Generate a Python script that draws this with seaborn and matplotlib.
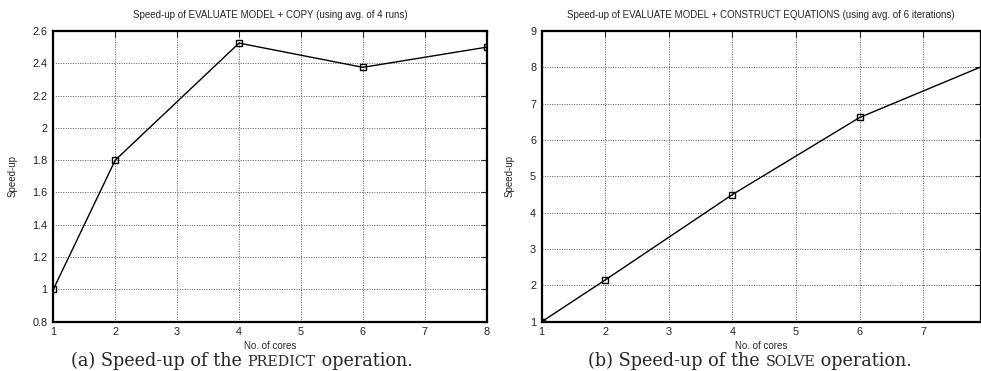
import matplotlib
matplotlib.use("Agg")
import matplotlib.pyplot as plt
import seaborn as sns
import pandas as pd

sns.set_style("white")
plt.rcParams['font.family'] = ['Liberation Sans', 'DejaVu Sans']

cores_a = [1, 2, 4, 6, 8]
speedup_a = [1.0, 1.8, 2.525, 2.375, 2.5]
cores_b = [1, 2, 4, 6, 8]
speedup_b = [1.0, 2.15, 4.5, 6.62, 8.08]

title_a = "Speed-up of EVALUATE MODEL + COPY (using avg. of 4 runs)"
title_b = "Speed-up of EVALUATE MODEL + CONSTRUCT EQUATIONS (using avg. of 6 iterations)"
caption_a = ["(a) Speed-up of the ", "PREDICT", " operation."]
caption_b = ["(b) Speed-up of the ", "SOLVE", " operation."]
xticks_a = [1, 2, 3, 4, 5, 6, 7, 8]
yticks_a = [0.8, 1.0, 1.2, 1.4, 1.6, 1.8, 2.0, 2.2, 2.4, 2.6]
yticklabels_a = ["0.8", "1", "1.2", "1.4", "1.6", "1.8", "2", "2.2", "2.4", "2.6"]
xticks_b = [1, 2, 3, 4, 5, 6, 7]
yticks_b = [1, 2, 3, 4, 5, 6, 7, 8, 9]

fig = plt.figure(figsize=(9.81, 3.71), dpi=100)
ax1 = fig.add_axes([53.3/981, 1-321.7/371, (486.7-53.3)/981, (321.7-31)/371])
ax2 = fig.add_axes([541.7/981, 1-321.7/371, (980.5-541.7)/981, (321.7-31)/371])

df_a = pd.DataFrame({"cores": cores_a, "speedup": speedup_a})
df_b = pd.DataFrame({"cores": cores_b, "speedup": speedup_b})

for ax, df, title, xt, yt in [
    (ax1, df_a, title_a, xticks_a, yticks_a),
    (ax2, df_b, title_b, xticks_b, yticks_b),
]:
    sns.lineplot(data=df, x="cores", y="speedup", ax=ax, color="black",
                 linewidth=1.0, marker="s", markersize=5,
                 markerfacecolor="none", markeredgecolor="black",
                 markeredgewidth=1.0, clip_on=True)
    ax.set_title(title, fontsize=7, pad=9)
    ax.set_xlabel("No. of cores", fontsize=7, labelpad=3)
    ax.set_ylabel("Speed-up", fontsize=7, labelpad=11)
    ax.set_xticks(xt)
    ax.set_yticks(yt)
    ax.tick_params(axis="both", labelsize=7.8, direction="in", length=4,
                   width=0.8, top=True, right=True, pad=4,
                   labelcolor="#222222")
    ax.grid(True, linestyle=(0, (1, 1.5)), color="#555555", linewidth=0.7)
    for s in ax.spines.values():
        s.set_linewidth(1.6)
        s.set_color("black")
    ax.set_axisbelow(True)

ax1.set_xlim(1, 8)
ax1.set_ylim(0.8, 2.6)
ax1.set_yticklabels(yticklabels_a)
ax2.set_xlim(1, 7.9)
ax2.set_ylim(1, 9)

serif = ["DejaVu Serif"]
renderer = fig.canvas.get_renderer()


def caption(parts, xc_px, y):
    sizes = [12.7, 10.3, 12.7]
    texts = []
    for p, s in zip(parts, sizes):
        t = fig.text(0, y, p, ha="left", va="baseline", fontsize=s, family=serif)
        texts.append(t)
    widths = [t.get_window_extent(renderer).width for t in texts]
    total = sum(widths)
    x = xc_px - total / 2
    for t, w in zip(texts, widths):
        t.set_x(x / 981)
        x += w


caption(caption_a, 241.5, 1 - 366 / 371)
caption(caption_b, 750, 1 - 366 / 371)

fig.savefig("out.png", dpi=100)
